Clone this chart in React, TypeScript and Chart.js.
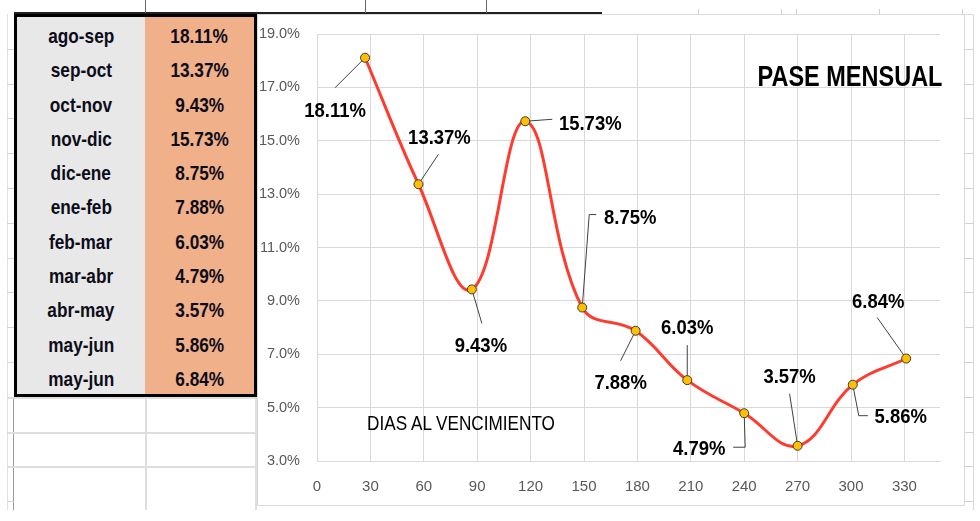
import React, { useEffect, useRef } from 'react';
import { Chart, registerables } from 'chart.js';

Chart.register(...registerables);

// ---------- data ----------
const periods = ['ago-sep', 'sep-oct', 'oct-nov', 'nov-dic', 'dic-ene', 'ene-feb', 'feb-mar', 'mar-abr', 'abr-may', 'may-jun', 'may-jun'];
const pase = [18.11, 13.37, 9.43, 15.73, 8.75, 7.88, 6.03, 4.79, 3.57, 5.86, 6.84];
const days = [27, 57, 87, 117, 149, 179, 208, 240, 270, 301, 331];
const xTickValues = [0, 30, 60, 90, 120, 150, 180, 210, 240, 270, 300, 330];
const chartTitle = 'PASE MENSUAL';
const axisTitle = 'DIAS AL VENCIMIENTO';

// ---------- label placement (px, relative to each point) ----------
const labelOffsets: [number, number][] = [
  [-30, 52], [21, -48], [9, 55], [65, 1], [48, -91], [-15, 51],
  [0, -54], [-45, 34], [-8, -70], [48, 31], [-28, -58],
];
const leaderPaths: [number, number][][] = [
  [[-30, 30], [0, 0]],
  [[20, -30], [0, 0]],
  [[10, 34], [0, 0]],
  [[27, -2], [0, 0]],
  [[0, 0], [7, -93], [14, -93]],
  [[-15, 30], [0, 0]],
  [[0, -35], [0, 0]],
  [[0, 0], [1, 34], [-11, 34]],
  [[-8, -52], [0, 0]],
  [[0, 0], [6, 31], [15, 31]],
  [[-29, -41], [0, 0]],
];

const FONT = '"Liberation Sans", Arial, sans-serif';

const labelPlugin = {
  id: 'paseLabels',
  beforeDatasetsDraw(chart: any) {
    const ctx = chart.ctx;
    const meta = chart.getDatasetMeta(0);
    ctx.save();
    ctx.strokeStyle = '#404040';
    ctx.lineWidth = 1;
    meta.data.forEach((pt: any, i: number) => {
      const path = leaderPaths[i];
      if (!path) return;
      ctx.beginPath();
      path.forEach(([dx, dy], j) => {
        if (j === 0) ctx.moveTo(pt.x + dx, pt.y + dy);
        else ctx.lineTo(pt.x + dx, pt.y + dy);
      });
      ctx.stroke();
    });
    ctx.restore();
  },
  afterDatasetsDraw(chart: any) {
    const ctx = chart.ctx;
    const meta = chart.getDatasetMeta(0);
    const size = 21;
    ctx.save();
    ctx.font = `bold ${size}px ${FONT}`;
    ctx.fillStyle = '#000';
    ctx.textAlign = 'center';
    ctx.textBaseline = 'alphabetic';
    meta.data.forEach((pt: any, i: number) => {
      const [dx, dy] = labelOffsets[i];
      ctx.save();
      ctx.translate(pt.x + dx, pt.y + dy + size * 0.358);
      ctx.scale(0.88, 1);
      ctx.fillText(pase[i].toFixed(2) + '%', 0, 0);
      ctx.restore();
    });
    ctx.restore();
  },
};

const abs = (l: number, t: number, w: number, h: number, bg: string): React.CSSProperties => ({
  position: 'absolute', left: l, top: t, width: w, height: h, background: bg,
});

export default function App() {
  const ref = useRef<HTMLCanvasElement | null>(null);

  useEffect(() => {
    if (!ref.current) return;
    const chart = new Chart(ref.current, {
      type: 'line',
      data: {
        datasets: [{
          data: days.map((d, i) => ({ x: d, y: pase[i] })),
          borderColor: '#ff3b2f',
          borderWidth: 3,
          tension: 0.4,
          fill: false,
          pointRadius: 4.5,
          pointBackgroundColor: '#ffc000',
          pointBorderColor: '#3a3a3a',
          pointBorderWidth: 1,
        }],
      },
      options: {
        responsive: false,
        animation: false,
        layout: { padding: { top: 19, right: 24, left: 0, bottom: 0 } },
        plugins: { legend: { display: false }, tooltip: { enabled: false }, title: { display: false } },
        scales: {
          x: {
            type: 'linear',
            min: 0,
            max: 350,
            afterBuildTicks: (s: any) => { s.ticks = xTickValues.map((v) => ({ value: v })); },
            afterFit: (s: any) => { s.height = 44; },
            ticks: { color: '#595959', font: { size: 15, family: FONT }, padding: 17, maxRotation: 0, autoSkip: false },
            grid: { color: '#d9d9d9', drawTicks: false },
            border: { color: '#d9d9d9' },
          },
          y: {
            min: 3,
            max: 19,
            afterFit: (s: any) => { s.width = 59; s.paddingTop = 8; s.paddingBottom = 8; },
            ticks: { stepSize: 2, color: '#595959', font: { size: 14.5, family: FONT }, padding: 17, callback: (v: any) => Number(v).toFixed(1) + '%' },
            grid: { color: '#d9d9d9', drawTicks: false },
            border: { color: '#d9d9d9' },
          },
        },
      },
      plugins: [labelPlugin],
    } as any);
    return () => chart.destroy();
  }, []);

  const rowH = 34.8;
  const innerTop = 17;
  const cellH = 377 / periods.length;
  const light = '#dedede';

  const cellText = (txt: string): React.ReactNode => (
    <span style={{ display: 'inline-block', transform: 'scaleX(0.82)', fontFamily: FONT, fontWeight: 700, fontSize: 21, color: '#0d0d1a', lineHeight: 1 }}>{txt}</span>
  );

  const sheetLines: React.ReactNode[] = [];
  for (let k = 1; k <= 14; k++) {
    const y = 14 + rowH * k;
    sheetLines.push(<div key={'l' + k} style={abs(7, y, 7, 1, '#d4d4d4')} />);
    sheetLines.push(<div key={'r' + k} style={abs(964, y, 10, 1, '#d4d4d4')} />);
  }
  for (let k = 11; k <= 13; k++) {
    const y = 14 + rowH * k;
    sheetLines.push(<div key={'b' + k} style={abs(8, y, 249, 2, light)} />);
  }

  return (
    <div style={{ position: 'fixed', left: 0, top: 0, width: 980, height: 521, background: '#fff', overflow: 'hidden' }}>
      {/* spreadsheet background lines */}
      <div style={abs(7, 14, 1, 496, '#e2e2e2')} />
      <div style={abs(13, 397, 1, 113, '#9a9a9a')} />
      <div style={abs(145, 397, 2, 113, light)} />
      <div style={abs(255, 397, 2, 113, light)} />
      <div style={abs(973, 14, 1, 496, '#d8d8d8')} />
      <div style={abs(14, 12, 588, 2, '#222')} />
      <div style={abs(602, 14, 372, 1, '#dcdcdc')} />
      <div style={abs(145, 0, 1, 13, '#666')} />
      <div style={abs(365, 0, 1, 13, '#666')} />
      <div style={abs(486, 0, 1, 13, '#666')} />
      <div style={abs(698, 9, 1, 6, '#d0d0d0')} />
      <div style={abs(781, 9, 1, 6, '#d0d0d0')} />
      <div style={abs(796, 9, 1, 6, '#d0d0d0')} />
      <div style={abs(879, 9, 1, 6, '#d0d0d0')} />
      <div style={abs(962, 9, 1, 6, '#d0d0d0')} />
      {sheetLines}

      {/* data table */}
      <div style={{ position: 'absolute', left: 14, top: 14, width: 243, height: 383, border: '3px solid #000', boxSizing: 'border-box', background: '#e8e8e8' }} />
      <div style={abs(145, 17, 109, 377, '#f0b08a')} />
      {periods.map((p, i) => (
        <React.Fragment key={i}>
          <div style={{ position: 'absolute', left: 17, top: innerTop + i * cellH + 1.5, width: 128, height: cellH, display: 'flex', alignItems: 'center', justifyContent: 'center' }}>
            {cellText(p)}
          </div>
          <div style={{ position: 'absolute', left: 145, top: innerTop + i * cellH + 1.5, width: 109, height: cellH, display: 'flex', alignItems: 'center', justifyContent: 'center' }}>
            {cellText(pase[i].toFixed(2) + '%')}
          </div>
        </React.Fragment>
      ))}

      {/* chart */}
      <div style={{ position: 'absolute', left: 257, top: 14, width: 708, height: 492, border: '1px solid #d9d9d9', boxSizing: 'border-box', background: '#fff' }}>
        <canvas ref={ref} width={706} height={490} style={{ display: 'block', width: 706, height: 490 }} />
      </div>
      <div style={{ position: 'absolute', left: 850, top: 76, transform: 'translate(-50%, -50%) scaleX(0.81)', fontFamily: FONT, fontWeight: 700, fontSize: 29, lineHeight: 1, whiteSpace: 'nowrap', color: '#000' }}>{chartTitle}</div>
      <div style={{ position: 'absolute', left: 461, top: 424, transform: 'translate(-50%, -50%) scaleX(0.88)', fontFamily: FONT, fontSize: 19.5, lineHeight: 1, whiteSpace: 'nowrap', color: '#000' }}>{axisTitle}</div>
    </div>
  );
}
